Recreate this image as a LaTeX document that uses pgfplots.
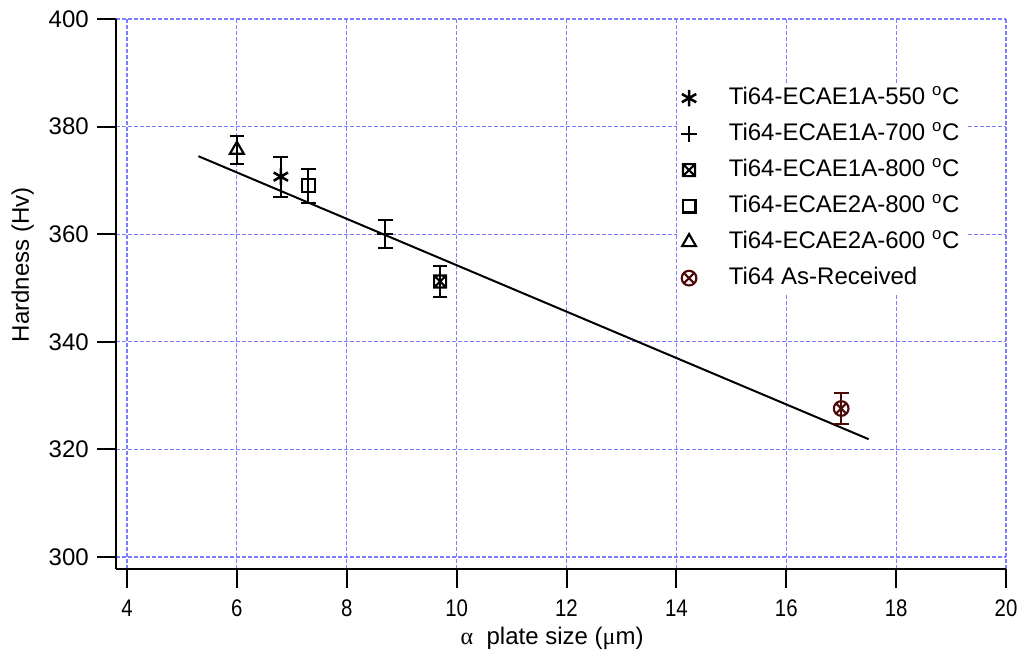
\documentclass[border=0pt]{standalone}
\usepackage{pgfplots}
\pgfplotsset{compat=1.18}
\usepackage{fontspec}
\setmainfont{Liberation Sans}
\newfontfamily\greekfont{Liberation Serif}
\newfontfamily\condfont[FakeStretch=0.85]{Liberation Sans}
\usetikzlibrary{plotmarks}
\definecolor{gridblue}{RGB}{125,125,255}
\definecolor{darkred}{RGB}{77,8,8}

\pgfdeclareplotmark{boxx}{%
  \pgfpathrectangle{\pgfqpoint{-\pgfplotmarksize}{-\pgfplotmarksize}}{\pgfqpoint{2\pgfplotmarksize}{2\pgfplotmarksize}}%
  \pgfpathmoveto{\pgfqpoint{-\pgfplotmarksize}{-\pgfplotmarksize}}%
  \pgfpathlineto{\pgfqpoint{\pgfplotmarksize}{\pgfplotmarksize}}%
  \pgfpathmoveto{\pgfqpoint{-\pgfplotmarksize}{\pgfplotmarksize}}%
  \pgfpathlineto{\pgfqpoint{\pgfplotmarksize}{-\pgfplotmarksize}}%
  \pgfusepathqstroke}

\begin{document}
\fontsize{18}{21}\selectfont
\begin{tikzpicture}
\begin{axis}[
  scale only axis,
  width=667.5pt, height=412.5pt,
  xmin=3.8, xmax=20, ymin=297.77, ymax=400,
  xtick={4,6,...,20}, ytick={300,320,...,400},
  axis lines=left,
  axis line style={-, line width=1.5pt},
  tick style={line width=1.5pt, black},
  tick align=outside,
  major tick length=14.25pt,
  /pgf/number format/assume math mode=true,
  xticklabel style={font=\condfont, yshift=-6.5pt, inner ysep=2pt},
  grid=major,
  major grid style={gridblue, line width=0.85pt, dash pattern=on 3pt off 1.5pt},
  xlabel={{\greekfont α}\ \ plate size ({\greekfont μ}m)},
  xlabel style={at={(rel axis cs:0.49,-0.137)}, anchor=base, inner ysep=1pt},
  ylabel={Hardness (Hv)},
  ylabel style={at={(ticklabel cs:0.553)}, yshift=-1pt},
  legend style={at={(rel axis cs:0.6304,0.8845)}, anchor=north west,
    draw=none, fill=white, inner sep=3pt, row sep=10pt,
    nodes={text height=13pt, text depth=4pt, inner ysep=0pt, inner xsep=2pt},
    /tikz/every odd column/.append style={column sep=22pt}},
  legend cell align=left,
  legend image code/.code={\draw[mark repeat=2,mark phase=2,#1] plot coordinates {(0cm,0cm) (0.3cm,0cm) (0.6cm,0cm)};},
  error bars/y dir=both, error bars/y explicit,
  error bars/error bar style={line width=1.5pt},
  error bars/error mark options={rotate=90, line width=1.5pt, mark size=5.5pt},
]
\addplot[black, line width=1.5pt, no marks, forget plot] coordinates {(5.3,374.5) (17.5,321.9)};

\addplot[black, only marks, mark=asterisk, mark size=6.2pt, mark options={line width=1.9pt}] coordinates {(6.8,370.7) +- (0,3.7)};
\addlegendentry{Ti64-ECAE1A-550 \textsuperscript{o}C}
\addplot[black, only marks, mark=+, mark size=5.8pt, mark options={line width=1.6pt}] coordinates {(8.7,360.0) +- (0,2.6)};
\addlegendentry{Ti64-ECAE1A-700 \textsuperscript{o}C}
\addplot[black, only marks, mark=boxx, mark size=4.5pt, mark options={line width=1.6pt}] coordinates {(9.7,351.2) +- (0,2.8)};
\addlegendentry{Ti64-ECAE1A-800 \textsuperscript{o}C}
\addplot[black, only marks, mark=square, mark size=4.8pt, mark options={line width=1.6pt}] coordinates {(7.3,369.0) +- (0,3.2)};
\addlegendentry{Ti64-ECAE2A-800 \textsuperscript{o}C}
\addplot[black, only marks, mark=triangle, mark size=6pt, mark options={line width=1.6pt}] coordinates {(6.0,375.7) +- (0,2.6)};
\addlegendentry{Ti64-ECAE2A-600 \textsuperscript{o}C}
\addplot[darkred, only marks, mark=otimes, mark size=5.5pt, mark options={line width=1.6pt}] coordinates {(17.0,327.6) +- (0,2.9)};
\addlegendentry{Ti64 As-Received}

\coordinate (bbl) at (rel axis cs:-0.13034,-0.16182);
\coordinate (btr) at (rel axis cs:1.02022,1.03455);
\end{axis}
\pgfresetboundingbox
\path[use as bounding box] (bbl) rectangle (btr);
\end{tikzpicture}
\end{document}
